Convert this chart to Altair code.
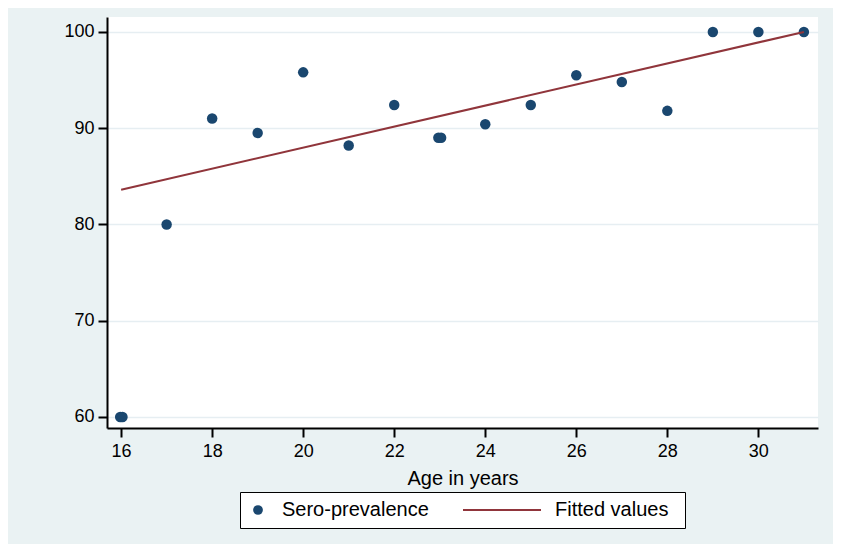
import altair as alt
import pandas as pd

ages = [15.98, 16.03, 17, 18, 19, 20, 21, 22, 22.97, 23.03, 24, 25, 26, 27, 28, 29, 30, 31]
prevalence = [60.0, 60.0, 80.0, 91.0, 89.5, 95.8, 88.2, 92.4, 89.0, 89.0, 90.4, 92.4, 95.5, 94.8, 91.8, 100.0, 100.0, 100.0]

# Fitted regression line end points
fit_ages = [16, 31]
fit_values = [83.6, 100.0]

x_ticks = [16, 18, 20, 22, 24, 26, 28, 30]
y_ticks = [60, 70, 80, 90, 100]

NAVY = "#1a476f"
MAROON = "#90353b"
BG = "#eaf2f3"
FONT = "Liberation Sans"

pts = pd.DataFrame({"age": ages, "prev": prevalence, "s_pt": "Sero-prevalence"})
fit = pd.DataFrame({"age": fit_ages, "prev": fit_values, "s_fit": "Fitted values"})

x_scale = alt.Scale(domain=[15.69, 31.31], nice=False, zero=False)
y_scale = alt.Scale(domain=[58.85, 101.55], nice=False, zero=False)

x_axis = alt.Axis(values=x_ticks, grid=False, title="Age in years", format="d",
                  labelFontSize=18, titleFontSize=20, titleFontWeight="normal",
                  tickSize=9, tickWidth=2, domainWidth=2, labelPadding=5, titlePadding=8,
                  domainColor="black", tickColor="black", labelColor="black", titleColor="black",
                  labelFont=FONT, titleFont=FONT)
y_axis = alt.Axis(values=y_ticks, grid=True, gridColor="#e6eef2", gridWidth=1.6, title=None, format="d",
                  labelFontSize=18, tickSize=9, tickWidth=2, domainWidth=2, labelPadding=4,
                  domainColor="black", tickColor="black", labelColor="black", labelFont=FONT)

# second (blank) legend entry only widens the framed legend box
points = alt.Chart(pts).mark_point(filled=True, size=110, opacity=1).encode(
    x=alt.X("age:Q", scale=x_scale, axis=x_axis),
    y=alt.Y("prev:Q", scale=y_scale, axis=y_axis),
    fill=alt.Fill("s_pt:N", scale=alt.Scale(domain=["Sero-prevalence", "_blank"], range=[NAVY, "white"]),
                  legend=alt.Legend(title=None, orient="none", legendX=133, legendY=475,
                                    direction="horizontal", columnPadding=214,
                                    strokeColor="black", fillColor="white", padding=8,
                                    symbolType="circle", symbolSize=95, clipHeight=20,
                                    labelFontSize=20, labelFont=FONT, labelColor="black",
                                    labelOffset=14, labelLimit=400,
                                    labelExpr="datum.label == '_blank' ? '' : datum.label")),
)

line = alt.Chart(fit).mark_line(strokeWidth=2).encode(
    x=alt.X("age:Q", scale=x_scale),
    y=alt.Y("prev:Q", scale=y_scale),
    stroke=alt.Stroke("s_fit:N", scale=alt.Scale(domain=["Fitted values"], range=[MAROON]),
                      legend=alt.Legend(title=None, orient="none", legendX=355, legendY=483,
                                        padding=0, symbolType="stroke", symbolSize=6084,
                                        symbolStrokeWidth=2, clipHeight=20,
                                        labelFontSize=20, labelFont=FONT, labelColor="black",
                                        labelOffset=13, labelLimit=400)),
)

chart = alt.layer(points, line).properties(
    width=711, height=411,
    background=BG,
    autosize=alt.AutoSizeParams(type="none"),
    padding={"left": 99, "top": 9, "right": 15, "bottom": 116},
).configure_view(fill="white", strokeWidth=0)

chart.save("out.html", embed_options={"renderer": "svg", "actions": False})
